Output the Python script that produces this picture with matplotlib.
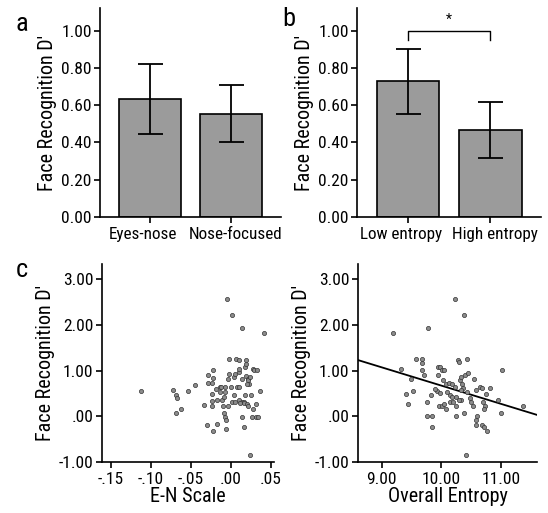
"""
Face recognition D' by fixation pattern and entropy (bar + scatter panels).
"""

import numpy as np
import matplotlib
matplotlib.use('Agg')
import matplotlib.pyplot as plt
import matplotlib.transforms as mtransforms
from matplotlib import font_manager

# prefer a narrow face, the original uses a condensed grotesque
names = {f.name for f in font_manager.fontManager.ttflist}
narrow = [n for n in ['Liberation Sans Narrow', 'DejaVu Sans Condensed',
                      'Roboto Condensed', 'Open Sans Condensed'] if n in names]
plt.rcParams['font.family'] = narrow + ['DejaVu Sans']
plt.rcParams['font.stretch'] = 'condensed'

# Panel a: fixation groups
groups_a = ['Eyes-nose', 'Nose-focused']
means_a = [0.632, 0.555]
upper_a = [0.819, 0.706]
lower_a = [0.443, 0.404]

# Panel b: entropy groups
groups_b = ['Low entropy', 'High entropy']
means_b = [0.727, 0.466]
upper_b = [0.903, 0.617]
lower_b = [0.550, 0.317]

# Panel c left: E-N scale vs D'
en_scale = [-0.112, -0.072, -0.069, -0.067, -0.068, -0.062, -0.054, -0.045, -0.033, -0.030,
            -0.028, -0.029, -0.022, -0.022, -0.023, -0.024, -0.024, -0.024, -0.022, -0.017,
            -0.014, -0.014, -0.011, -0.012, -0.010, -0.007, -0.007, -0.008, -0.009, -0.007,
            -0.006, -0.006, -0.004, -0.003, -0.002, -0.002, 0.000, -0.005, 0.002, 0.004,
            0.001, 0.005, 0.006, 0.008, 0.010, 0.010, 0.004, 0.010, 0.010, 0.010,
            0.014, 0.014, 0.014, 0.014, 0.016, 0.017, 0.017, 0.018, 0.019, 0.019,
            0.019, 0.018, 0.020, 0.021, 0.022, 0.023, 0.022, 0.024, 0.024, 0.025,
            0.026, 0.028, 0.028, 0.029, 0.032, 0.033, 0.031, 0.034, 0.036, 0.042,
            0.020, 0.005, -0.017, -0.018, 0.012]
dprime_en = [0.55, 0.57, 0.47, 0.39, 0.07, 0.16, 0.55, 0.69, 0.24, -0.18,
             0.90, 0.72, 1.02, 0.84, 0.72, 0.48, 0.34, 0.23, -0.32, -0.16,
             0.53, 0.64, 0.35, 0.64, 0.23, 0.64, 0.53, 0.42, 0.07, -0.01,
             -0.09, -0.27, 0.23, 0.81, 0.92, 1.25, 0.64, 2.56, 2.22, 0.86,
             0.31, 0.31, 1.25, 0.64, 0.64, 0.35, 0.47, 0.97, 1.04, 1.23,
             1.93, 0.82, -0.01, 0.31, 0.31, 0.28, -0.23, 1.08, 1.23, 1.15,
             0.89, 0.47, 0.26, 0.82, 0.79, 0.70, 0.23, -0.85, 0.86, 0.47,
             -0.01, 0.16, 1.04, 1.01, 0.26, 1.01, -0.01, -0.01, 0.55, 1.83,
             0.70, 0.93, 0.35, 0.60, 0.30]

# Panel c right: overall entropy vs D'
entropy = [9.19, 9.78, 10.22, 10.38, 9.33, 9.49, 9.52, 9.41, 9.44, 9.57,
           9.68, 9.67, 9.67, 9.71, 9.82, 9.75, 9.75, 9.84, 9.84, 9.92,
           9.94, 9.98, 10.01, 9.94, 9.97, 10.05, 10.03, 9.96, 10.01, 10.05,
           10.08, 10.08, 10.12, 10.15, 10.14, 10.17, 10.23, 10.25, 10.24, 10.25,
           10.27, 10.29, 10.31, 10.33, 10.34, 10.36, 10.32, 10.39, 10.43, 10.45,
           10.32, 10.37, 10.41, 10.43, 10.48, 10.49, 10.52, 10.54, 10.57, 10.59,
           10.57, 10.57, 10.64, 10.68, 10.69, 10.73, 10.72, 10.74, 10.81, 10.68,
           10.72, 10.77, 10.94, 11.00, 11.02, 11.37, 10.18, 10.20, 10.29, 10.09,
           9.90]
dprime_ent = [1.82, 1.93, 2.56, 2.21, 1.04, 0.82, 0.55, 0.48, 0.26, 1.25,
              1.25, 1.17, 1.01, 0.90, 0.47, 0.31, 0.00, 0.00, -0.23, 0.55,
              1.07, 1.07, 1.01, 0.90, 0.51, 1.02, 0.80, 0.23, 0.23, 0.26,
              0.16, 0.70, 0.73, 0.47, 0.31, 0.70, 0.64, 0.42, 0.23, 0.00,
              1.23, 1.19, 0.80, 0.85, 0.70, 0.61, 0.57, 0.90, 1.25, 0.95,
              0.35, 0.07, -0.85, 0.53, 0.41, 0.31, 0.23, 0.82, 0.57, 0.00,
              -0.09, -0.18, 0.64, 0.61, 0.31, 0.23, 0.16, 0.48, 0.61, -0.18,
              -0.23, -0.32, 0.35, 0.07, 1.01, 0.23, 0.42, 0.31, 0.35, 0.54,
              0.60]

# Fit line
fit_intercept = 4.67
fit_slope = -0.40

BAR_GRAY = '#9b9b9b'
DOT_GRAY = '#8c8c8c'
TICK_FS = 12.5
LABEL_FS = 14.5

fig = plt.figure(figsize=(5.48, 5.13), dpi=100, facecolor='white')
ax_a = fig.add_axes([0.1825, 0.577, 0.330, 0.407])
ax_b = fig.add_axes([0.6515, 0.577, 0.336, 0.407])
ax_c1 = fig.add_axes([0.186, 0.0994, 0.314, 0.386])
ax_c2 = fig.add_axes([0.653, 0.0994, 0.327, 0.386])


def style_axes(ax):
    for side in ['top', 'right']:
        ax.spines[side].set_visible(False)
    for side in ['left', 'bottom']:
        ax.spines[side].set_linewidth(1.2)
    ax.tick_params(width=1.2, length=4.5, labelsize=TICK_FS, pad=1.5)
    ax.tick_params(axis='x', pad=2.5)


def bar_panel(ax, groups, means, upper, lower):
    x = np.arange(len(groups))
    yerr = [np.array(means) - np.array(lower), np.array(upper) - np.array(means)]
    ax.bar(x, means, width=0.765, color=BAR_GRAY, edgecolor='black', linewidth=1.2,
           yerr=yerr, capsize=9, error_kw={'elinewidth': 1.3, 'capthick': 1.3})
    ax.set_xlim(-0.62, 1.62)
    ax.set_ylim(0, 1.12)
    ax.set_yticks([0, 0.2, 0.4, 0.6, 0.8, 1.0])
    ax.set_yticklabels(['0.00', '0.20', '0.40', '0.60', '0.80', '1.00'])
    ax.set_ylabel("Face Recognition D'", fontsize=LABEL_FS, labelpad=3)
    style_axes(ax)
    ax.set_xticks(x)
    labels = ax.set_xticklabels(groups, fontsize=12.3)
    # the two category labels sit a little apart from their ticks
    for lab, dx in zip(labels, [-7, 5]):
        lab.set_transform(lab.get_transform() +
                          mtransforms.ScaledTranslation(dx / 100, 0, fig.dpi_scale_trans))


bar_panel(ax_a, groups_a, means_a, upper_a, lower_a)
bar_panel(ax_b, groups_b, means_b, upper_b, lower_b)

# significance bracket
ax_b.plot([0, 0, 1, 1], [0.95, 1.0, 1.0, 0.95], color='black', linewidth=1.0)
ax_b.text(0.5, 1.02, '*', ha='center', va='bottom', fontsize=10)

dprime_ticks = [-1, 0, 1, 2, 3]
dprime_labels = ['-1.00', '.00', '1.00', '2.00', '3.00']

ax_c1.scatter(en_scale, dprime_en, s=9, color=DOT_GRAY, edgecolors='#333333',
              linewidths=0.5, zorder=3)
ax_c1.set_xlim(-0.161, 0.054)
ax_c1.set_xticks([-0.15, -0.10, -0.05, 0.0, 0.05])
ax_c1.set_xticklabels(['-.15', '-.10', '-.05', '.00', '.05'])
ax_c1.set_xlabel('E-N Scale', fontsize=LABEL_FS, labelpad=0.5)

ax_c2.scatter(entropy, dprime_ent, s=9, color=DOT_GRAY, edgecolors='#333333',
              linewidths=0.5, zorder=3)
xl = np.array([8.6, 11.6])
ax_c2.plot(xl, fit_intercept + fit_slope * xl, color='black', linewidth=1.3)
ax_c2.set_xlim(8.6, 11.6)
ax_c2.set_xticks([9, 10, 11])
ax_c2.set_xticklabels(['9.00', '10.00', '11.00'])
ax_c2.set_xlabel('Overall Entropy', fontsize=LABEL_FS, labelpad=0.5)

for ax in [ax_c1, ax_c2]:
    ax.set_ylim(-1, 3.33)
    ax.set_yticks(dprime_ticks)
    ax.set_yticklabels(dprime_labels)
    ax.set_ylabel("Face Recognition D'", fontsize=LABEL_FS, labelpad=3)
    style_axes(ax)

fig.text(0.040, 0.953, 'a', fontsize=19, ha='center', va='center')
fig.text(0.527, 0.962, 'b', fontsize=19, ha='center', va='center')
fig.text(0.040, 0.474, 'c', fontsize=19, ha='center', va='center')

fig.savefig('out.png', dpi=100, facecolor='white')
